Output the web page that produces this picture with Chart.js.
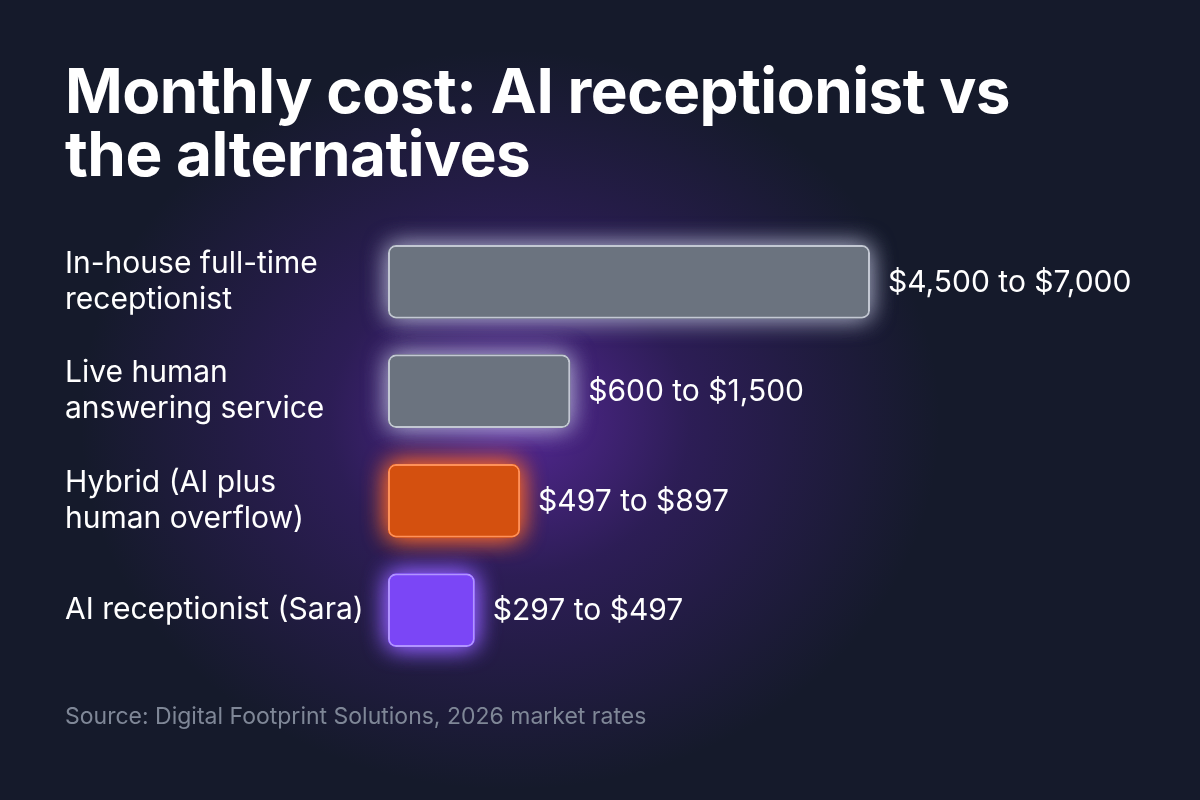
<!DOCTYPE html>
<html>
<head>
<meta charset="utf-8">
<script src="https://cdn.jsdelivr.net/npm/chart.js@4.4.1/dist/chart.umd.min.js"></script>
<style>
    html, body {
        margin: 0;
        padding: 0;
    }
    body {
        width: 1200px;
        height: 800px;
        overflow: hidden;
        position: relative;
        font-family: Inter, 'Noto Sans', sans-serif;
        background:
            radial-gradient(ellipse 430px 370px at 510px 420px, rgba(110, 45, 190, 0.72) 0%, rgba(80, 34, 150, 0.4) 42%, rgba(21, 26, 44, 0) 100%),
            #151a2b;
    }
    h1 {
        position: absolute;
        left: 65px;
        top: 59px;
        margin: 0;
        color: #ffffff;
        font-size: 62px;
        font-weight: 700;
        line-height: 63px;
        letter-spacing: -0.5px;
    }
    .source {
        position: absolute;
        left: 65px;
        top: 702px;
        color: #7f8797;
        font-size: 23px;
    }
    #chart {
        position: absolute;
        left: 0;
        top: 0;
    }
</style>
</head>
<body>
<h1>Monthly cost: AI receptionist vs<br>the alternatives</h1>
<canvas id="chart" width="1200" height="800"></canvas>
<div class="source">Source: Digital Footprint Solutions, 2026 market rates</div>

<script>
    // categories (multi-line labels as shown)
    const categories = [
        ['In-house full-time', 'receptionist'],
        ['Live human', 'answering service'],
        ['Hybrid (AI plus', 'human overflow)'],
        'AI receptionist (Sara)'
    ];

    // monthly price ranges in USD
    const lowCost = [4500, 600, 497, 297];
    const highCost = [7000, 1500, 897, 497];

    // bar lengths as drawn, relative to the longest bar (%)
    const barLengths = [100, 37.8, 27.4, 18];

    const fillColors = ['#6b737f', '#6b737f', '#d4500f', '#7b46f6'];
    const edgeColors = ['#c3c8d3', '#c3c8d3', '#ff9159', '#b194ff'];
    const glowColors = ['rgba(205, 212, 235, 0.55)', 'rgba(205, 212, 235, 0.55)', 'rgba(255, 105, 35, 0.85)', 'rgba(145, 95, 255, 0.9)'];

    const money = v => '$' + v.toLocaleString('en-US');
    const rangeLabels = lowCost.map((lo, i) => money(lo) + ' to ' + money(highCost[i]));

    // soft halo behind each bar (the bar element clips its own shadow)
    const glowBars = {
        id: 'glowBars',
        beforeDatasetDraw(chart, args) {
            const ctx = chart.ctx;
            args.meta.data.forEach((bar, i) => {
                const {x, y, base, height} = bar.getProps(['x', 'y', 'base', 'height']);
                ctx.save();
                ctx.shadowColor = glowColors[i];
                ctx.shadowBlur = 24;
                ctx.fillStyle = fillColors[i];
                ctx.beginPath();
                ctx.roundRect(base, y - height / 2, x - base, height, 8);
                ctx.fill();
                ctx.fill();
                ctx.restore();
            });
        }
    };

    const rangeText = {
        id: 'rangeText',
        afterDatasetsDraw(chart) {
            const ctx = chart.ctx;
            const meta = chart.getDatasetMeta(0);
            ctx.save();
            ctx.fillStyle = '#ffffff';
            ctx.font = '30px Inter';
            ctx.textAlign = 'left';
            ctx.textBaseline = 'middle';
            meta.data.forEach((bar, i) => {
                ctx.fillText(rangeLabels[i], bar.x + 18, bar.y + 1);
            });
            ctx.restore();
        }
    };

    new Chart(document.getElementById('chart'), {
        type: 'bar',
        data: {
            labels: categories,
            datasets: [{
                data: barLengths,
                backgroundColor: fillColors,
                borderColor: edgeColors,
                borderWidth: 2,
                borderSkipped: false,
                borderRadius: 8,
                barPercentage: 0.67,
                categoryPercentage: 1,
                clip: false
            }]
        },
        options: {
            indexAxis: 'y',
            responsive: false,
            animation: false,
            layout: {
                padding: { left: 65, right: 330, top: 227, bottom: 135 }
            },
            scales: {
                x: {
                    display: false,
                    min: 0,
                    max: 100
                },
                y: {
                    grid: { display: false },
                    border: { display: false },
                    afterFit(scale) {
                        scale.width = 323;
                    },
                    ticks: {
                        crossAlign: 'far',
                        color: '#ffffff',
                        font: { family: 'Inter', size: 30, lineHeight: 1.2 }
                    }
                }
            },
            plugins: {
                legend: { display: false },
                tooltip: { enabled: false }
            }
        },
        plugins: [glowBars, rangeText]
    });
</script>
</body>
</html>
